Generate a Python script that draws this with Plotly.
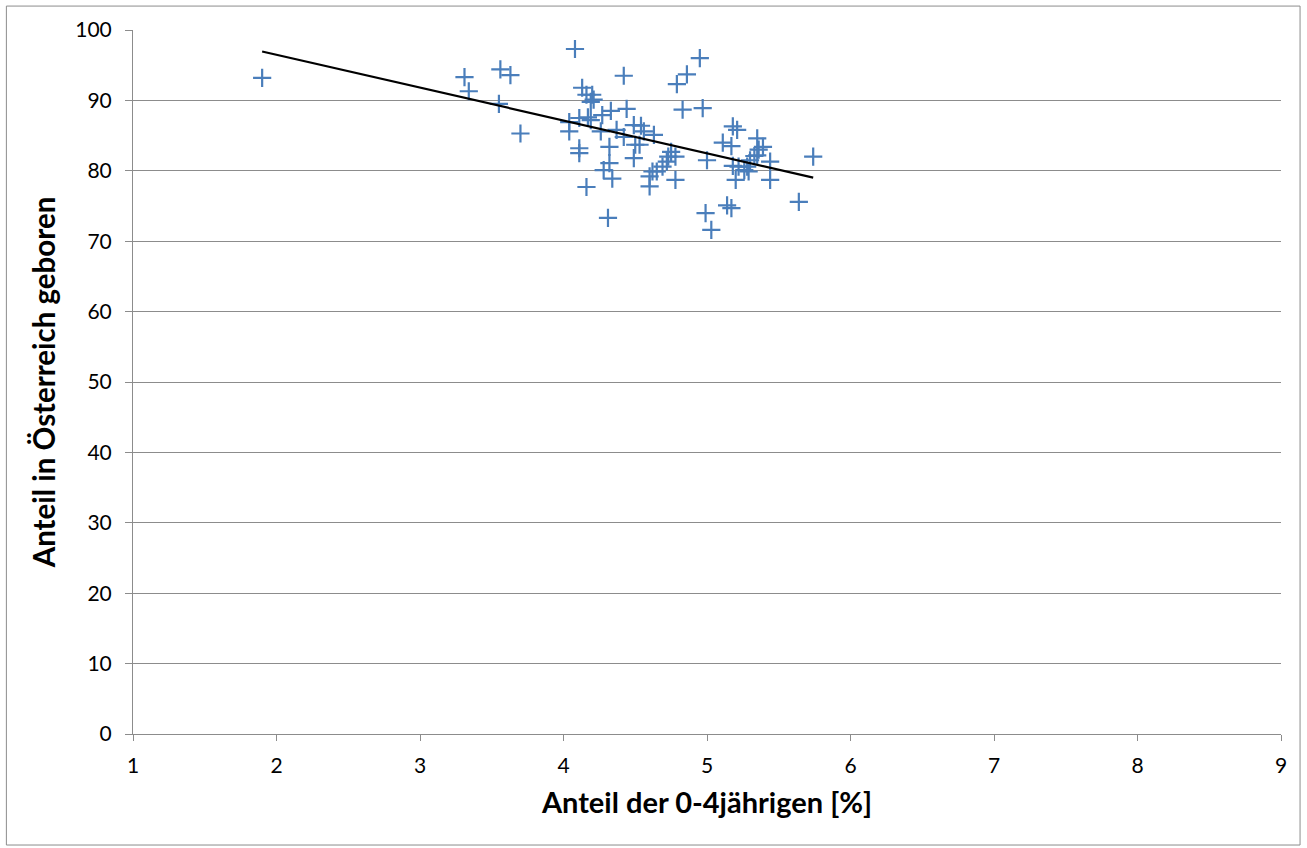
import numpy as np
import plotly.graph_objects as go

x_vals = [1.90, 3.31, 3.34, 3.56, 3.63, 3.55, 3.70, 4.08, 4.04, 4.04, 4.11, 4.11, 4.16, 4.31,
          4.13, 4.16, 4.20, 4.21, 4.19, 4.11, 4.17, 4.19, 4.27, 4.33, 4.26, 4.37, 4.42, 4.44,
          4.42, 4.32, 4.32, 4.28, 4.34, 4.49, 4.50, 4.49, 4.95, 4.86, 4.79, 4.83, 4.97, 4.54,
          4.56, 4.63, 4.53, 4.62, 4.60, 4.60, 4.65, 4.69, 4.72, 4.73, 4.78, 4.75, 4.78, 5.00,
          4.99, 5.03, 5.11, 5.17, 5.18, 5.21, 5.14, 5.17, 5.18, 5.20, 5.22, 5.26, 5.29, 5.30,
          5.33, 5.35, 5.36, 5.39, 5.35, 5.44, 5.44, 5.64, 5.74, 5.28]
y_vals = [93.2, 93.3, 91.3, 94.4, 93.6, 89.5, 85.3, 97.3, 86.9, 85.6, 83.2, 82.5, 77.7, 73.3,
          91.8, 90.8, 90.8, 90.1, 89.8, 87.5, 87.6, 87.2, 87.9, 88.5, 85.6, 85.8, 84.8, 88.8,
          93.5, 83.4, 81.1, 80.1, 78.9, 86.5, 83.7, 81.8, 96.0, 93.7, 92.3, 88.7, 88.9, 86.4,
          85.6, 85.1, 83.7, 79.9, 79.2, 77.8, 79.9, 80.6, 81.3, 82.0, 82.0, 82.7, 78.7, 81.5,
          74.0, 71.6, 84.0, 83.5, 86.3, 85.8, 75.1, 74.7, 80.7, 78.7, 80.6, 80.1, 79.9, 81.5,
          82.1, 84.6, 83.0, 83.4, 82.2, 81.3, 78.7, 75.6, 82.0, 80.6]

x_ticks = [1, 2, 3, 4, 5, 6, 7, 8, 9]
y_ticks = [0, 10, 20, 30, 40, 50, 60, 70, 80, 90, 100]

x_title = "Anteil der 0-4jährigen [%]"
y_title = "Anteil in Österreich geboren"

# linear trend line (least squares over the data)
slope, intercept = np.polyfit(x_vals, y_vals, 1)
trend_x = [min(x_vals), max(x_vals)]
trend_y = [slope * v + intercept for v in trend_x]

fig = go.Figure()
fig.add_trace(go.Scatter(
    x=x_vals, y=y_vals, mode="markers",
    marker=dict(symbol="cross-thin", size=13, line=dict(width=2.2, color="#4A7EBB")),
    showlegend=False, hoverinfo="x+y"))
fig.add_trace(go.Scatter(
    x=trend_x, y=trend_y, mode="lines",
    line=dict(color="black", width=2.2), showlegend=False))

font_family = "Lato, 'Open Sans', sans-serif"
fig.update_layout(
    width=1307, height=848,
    margin=dict(l=133, r=26, t=30, b=114),
    paper_bgcolor="white", plot_bgcolor="white",
    font=dict(family=font_family, size=21, color="black"),
    xaxis=dict(range=[1, 9], tickvals=x_ticks, showgrid=False, zeroline=False,
               showline=True, linecolor="#8c8c8c", linewidth=1,
               ticks="outside", ticklen=6, tickcolor="#8c8c8c", ticklabelstandoff=7,
               title=dict(text="<b>" + x_title + "</b>", font=dict(size=29), standoff=16)),
    yaxis=dict(range=[0, 100], tickvals=y_ticks, showgrid=True, gridcolor="#8c8c8c",
               gridwidth=1, zeroline=False, showline=True, linecolor="#8c8c8c",
               ticks="outside", ticklen=7, tickcolor="#8c8c8c", ticklabelstandoff=9,
               title=dict(text="<b>" + y_title + "</b>", font=dict(size=29.5), standoff=10)),
    shapes=[dict(type="rect", xref="paper", yref="paper",
                 x0=-0.1103, x1=1.0166, y0=-0.1577, y1=1.034,
                 line=dict(color="#8c8c8c", width=1), fillcolor="rgba(0,0,0,0)")],
)

fig.write_html("out.html")
